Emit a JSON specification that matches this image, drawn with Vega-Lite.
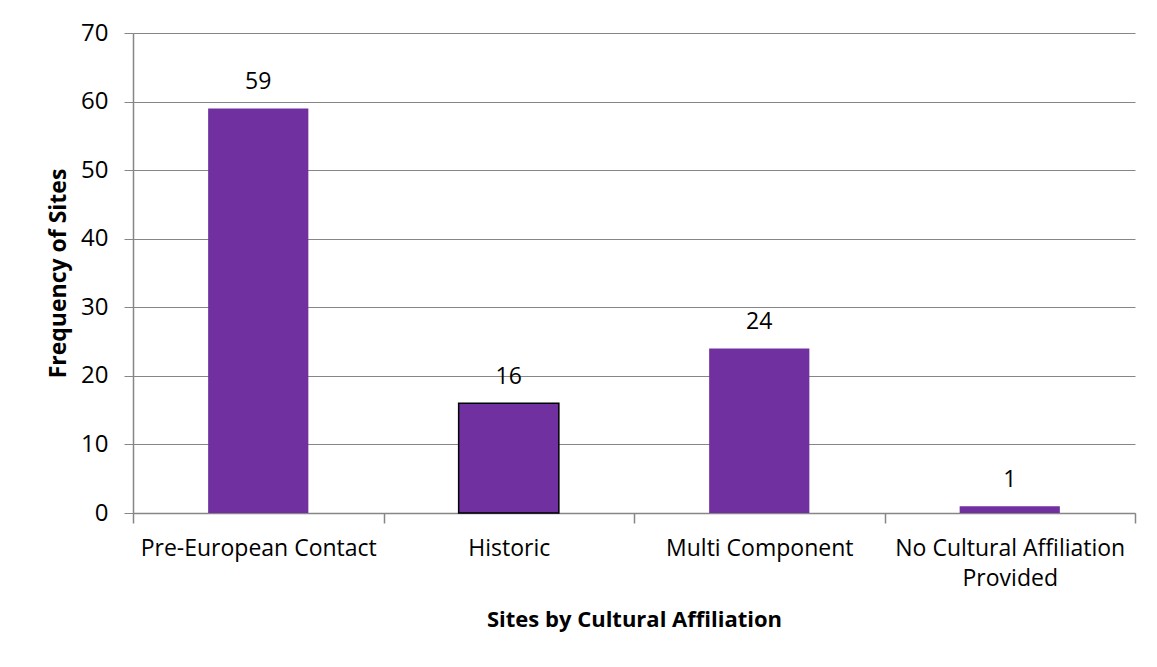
{
  "$schema": "https://vega.github.io/schema/vega-lite/v6.json",
  "autosize": "none",
  "width": 1002,
  "height": 480,
  "padding": {"left": 133, "top": 33, "right": 22, "bottom": 154},
  "background": "white",
  "data": {
    "values": [
      {"category": "Pre-European Contact", "sites": 59},
      {"category": "Historic", "sites": 16},
      {"category": "Multi Component", "sites": 24},
      {"category": "No Cultural Affiliation Provided", "sites": 1}
    ]
  },
  "config": {
    "view": {"stroke": null},
    "font": "Open Sans"
  },
  "encoding": {
    "x": {
      "field": "category",
      "type": "nominal",
      "sort": null,
      "scale": {"paddingInner": 0, "paddingOuter": 0},
      "axis": {
        "title": "Sites by Cultural Affiliation",
        "titleFont": "Open Sans",
        "titleFontSize": 22,
        "titleFontWeight": "bold",
        "titleColor": "#000000",
        "titlePadding": 19,
        "labelAngle": 0,
        "labelFontSize": 23,
        "labelColor": "#000000",
        "labelPadding": 14,
        "labelLimit": 400,
        "labelLineHeight": 30,
        "labelExpr": "datum.label == 'No Cultural Affiliation Provided' ? ['No Cultural Affiliation', 'Provided'] : datum.label",
        "tickBand": "extent",
        "tickSize": 10,
        "tickWidth": 1.5,
        "tickColor": "#868686",
        "domainColor": "#868686",
        "domainWidth": 1.5,
        "grid": false
      }
    },
    "y": {
      "field": "sites",
      "type": "quantitative",
      "scale": {"domain": [0, 70], "nice": false},
      "axis": {
        "title": "Frequency of Sites",
        "titleFontSize": 23,
        "titleFontWeight": "bold",
        "titleColor": "#000000",
        "titlePadding": 10,
        "values": [0, 10, 20, 30, 40, 50, 60, 70],
        "labelFontSize": 24,
        "labelColor": "#000000",
        "labelPadding": 16,
        "tickSize": 9,
        "tickColor": "#868686",
        "domainColor": "#868686",
        "domainWidth": 1.5,
        "gridColor": "#868686",
        "gridWidth": 1.2
      }
    }
  },
  "layer": [
    {
      "mark": {"type": "bar", "color": "#7030A0", "stroke": "#000000", "width": {"band": 0.4}},
      "encoding": {
        "strokeWidth": {
          "condition": {"test": "datum.category === 'Historic'", "value": 1.5},
          "value": 0
        }
      }
    },
    {
      "mark": {"type": "text", "baseline": "bottom", "dy": -14, "fontSize": 23, "color": "#000000"},
      "encoding": {"text": {"field": "sites", "type": "quantitative"}}
    }
  ]
}
